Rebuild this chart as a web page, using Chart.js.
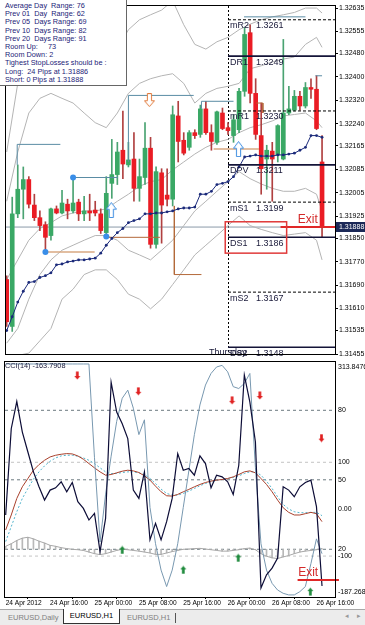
<!DOCTYPE html>
<html>
<head>
<meta charset="utf-8">
<title>EURUSD,H1</title>
<script src="https://cdn.jsdelivr.net/npm/chart.js@4.4.1/dist/chart.umd.min.js"></script>
<style>
  html, body { margin: 0; padding: 0; background: #fff; }
  body { width: 365px; height: 625px; position: relative; overflow: hidden; font-family: "Liberation Sans", Arial, sans-serif; }
  canvas { position: absolute; left: 0; }
  #mainChart { top: 0; }
  #cciChart { top: 357px; }
  #info { position: absolute; left: 0; top: 0; width: 127px; height: 86px; background: #fff;
          border-right: 1px solid #666; border-bottom: 1px solid #666; box-sizing: border-box;
          padding: 2px 0 0 5px; font-size: 7.3px; line-height: 8.2px; color: #1c1c78; white-space: pre; }
  #cciLabel { position: absolute; left: 5px; top: 361px; font-size: 7.3px; color: #202040; }
  #tabs { position: absolute; left: 0; top: 609px; width: 365px; height: 16px; background: #ececec;
          border-top: 1px solid #a8a8a8; font-size: 7.5px; }
  .tab { position: absolute; top: 1px; height: 13px; line-height: 13px; color: #808080; }
  .tab.on { top: -1px; height: 14px; line-height: 14px; background: #fff; color: #000;
            border: 1px solid #333; border-top: none; text-align: center; }
  #sep { position: absolute; left: 175px; top: 3px; width: 1px; height: 10px; background: #555; }
  .arr { position: absolute; top: 2px; font-family: "DejaVu Sans", sans-serif; font-size: 7px; color: #999; }
</style>
</head>
<body>
<canvas id="mainChart" width="365" height="360"></canvas>
<canvas id="cciChart" width="365" height="253"></canvas>
<div id="info">Average Day  Range: 76
Prev 01  Day  Range: 62
Prev 05  Days Range: 69
Prev 10  Days Range: 82
Prev 20  Days Range: 91
Room Up:     73
Room Down: 2
Tighest StopLosses should be :
Long:  24 Pips at 1.31886
Short: 0 Pips at 1.31888</div>
<div id="cciLabel">CCI(14) -163.7908</div>
<div id="tabs">
  <div class="tab" style="left:8px">EURUSD,Daily</div>
  <div class="tab on" style="left:63px;width:55px">EURUSD,H1</div>
  <div class="tab" style="left:127px">EURUSD,H1</div>
  <div id="sep"></div>
  <div class="arr" style="left:345px">&#9666;</div>
  <div class="arr" style="left:357px">&#9656;</div>
</div>
<script>
// EURUSD H1 candles, 24 Apr 2012 08:00 .. 26 Apr 17:00 (58 bars)
const openP = [
  1.31709, 1.31549, 1.31933, 1.32017, 1.32050, 1.31963, 1.31920, 1.31896, 1.31859, 1.31950,
  1.31936, 1.31966, 1.31943, 1.31973, 1.31933, 1.31943, 1.31946, 1.31933, 1.31869, 1.32037,
  1.32067, 1.32150, 1.32100, 1.32120, 1.32020, 1.32057, 1.32157, 1.31829, 1.32073, 1.31997,
  1.31983, 1.32267, 1.32184, 1.32160, 1.32210, 1.32204, 1.32291, 1.32210, 1.32177, 1.32277,
  1.32227, 1.32200, 1.32220, 1.32351, 1.32551, 1.32344, 1.32200, 1.32120, 1.32147, 1.32134,
  1.32120, 1.32277, 1.32287, 1.32334, 1.32301, 1.32364, 1.32358, 1.32110];
const highP = [
  1.31722, 1.31990, 1.32100, 1.32093, 1.32060, 1.32000, 1.31943, 1.31906, 1.31953, 1.31960,
  1.32013, 1.31983, 1.32053, 1.31983, 1.31993, 1.32000, 1.31976, 1.31950, 1.32060, 1.32187,
  1.32177, 1.32284, 1.32177, 1.32210, 1.32120, 1.32244, 1.32194, 1.32093, 1.32087, 1.32087,
  1.32301, 1.32317, 1.32210, 1.32217, 1.32220, 1.32304, 1.32317, 1.32237, 1.32284, 1.32294,
  1.32244, 1.32271, 1.32361, 1.32568, 1.32578, 1.32394, 1.32311, 1.32167, 1.32177, 1.32237,
  1.32528, 1.32368, 1.32354, 1.32351, 1.32381, 1.32394, 1.32404, 1.32200];
const lowP = [
  1.31549, 1.31532, 1.31920, 1.31916, 1.31953, 1.31910, 1.31876, 1.31803, 1.31843, 1.31933,
  1.31933, 1.31916, 1.31936, 1.31910, 1.31910, 1.31910, 1.31926, 1.31866, 1.31856, 1.31986,
  1.32033, 1.32053, 1.32093, 1.31976, 1.31976, 1.32033, 1.31816, 1.31816, 1.31833, 1.31960,
  1.31960, 1.32110, 1.32134, 1.32150, 1.32190, 1.32194, 1.32204, 1.32150, 1.32170, 1.32220,
  1.32204, 1.32177, 1.32210, 1.32334, 1.32311, 1.32187, 1.32000, 1.32017, 1.31976, 1.32110,
  1.32117, 1.32271, 1.32284, 1.32287, 1.32294, 1.32327, 1.32220, 1.31853];
const closeP = [
  1.31565, 1.31933, 1.32017, 1.32050, 1.31966, 1.31920, 1.31893, 1.31853, 1.31950, 1.31936,
  1.31970, 1.31943, 1.31970, 1.31933, 1.31943, 1.31936, 1.31936, 1.31876, 1.32003, 1.32067,
  1.32144, 1.32103, 1.32117, 1.32020, 1.32060, 1.32157, 1.31829, 1.32077, 1.31963, 1.31983,
  1.32271, 1.32180, 1.32140, 1.32210, 1.32200, 1.32291, 1.32210, 1.32180, 1.32281, 1.32224,
  1.32217, 1.32254, 1.32351, 1.32545, 1.32344, 1.32204, 1.32087, 1.32150, 1.32120, 1.32234,
  1.32277, 1.32291, 1.32334, 1.32301, 1.32364, 1.32358, 1.32224, 1.31888];

// dotted trailing line under the candles
const trailDots = [
  1.31535, 1.31582, 1.31632, 1.31669, 1.31699, 1.31702, 1.31716, 1.31722, 1.31732, 1.31759,
  1.31762, 1.31769, 1.31772, 1.31776, 1.31776, 1.31779, 1.31782, 1.31799, 1.31826, 1.31849,
  1.31869, 1.31883, 1.31903, 1.31910, 1.31916, 1.31933, 1.31933, 1.31936, 1.31936, 1.31940,
  1.31943, 1.31950, 1.31953, 1.31953, 1.31956, 1.32000, 1.32000, 1.32010, 1.32033, 1.32037,
  1.32043, 1.32060, 1.32093, 1.32127, 1.32130, 1.32134, 1.32130, 1.32130, 1.32130, 1.32134,
  1.32134, 1.32137, 1.32140, 1.32150, 1.32160, 1.32200, 1.32200, 1.32194];

// envelope bands, sampled every second bar
const bandIdx = [0, 2, 4, 6, 8, 10, 12, 14, 16, 18, 20, 22, 24, 26, 28, 30, 32, 34, 36, 38, 40, 42, 44, 46, 48, 50, 52, 54, 56, 57];
const bandOuterUp = [1.32144, 1.32378, 1.32545, 1.32612, 1.32660, 1.32628, 1.32578, 1.32511, 1.32461, 1.32428,
  1.32495, 1.32561, 1.32595, 1.32612, 1.32628, 1.32660, 1.32578, 1.32511, 1.32495, 1.32520,
  1.32535, 1.32561, 1.32580, 1.32595, 1.32605, 1.32612, 1.32620, 1.32635, 1.32635, 1.32618];
const bandInnerUp = [1.31976, 1.32144, 1.32277, 1.32327, 1.32344, 1.32327, 1.32311, 1.32277, 1.32244, 1.32227,
  1.32277, 1.32344, 1.32378, 1.32394, 1.32404, 1.32411, 1.32378, 1.32311, 1.32344, 1.32361,
  1.32368, 1.32378, 1.32428, 1.32438, 1.32451, 1.32461, 1.32468, 1.32511, 1.32535, 1.32501];
const bandMid = [1.31709, 1.31776, 1.31843, 1.31883, 1.31903, 1.31926, 1.31936, 1.31943, 1.31943, 1.31950,
  1.31976, 1.32000, 1.32027, 1.32043, 1.32050, 1.32083, 1.32110, 1.32137, 1.32160, 1.32177,
  1.32187, 1.32210, 1.32227, 1.32237, 1.32250, 1.32267, 1.32272, 1.32277, 1.32250, 1.32227];
const bandInnerLo = [1.31492, 1.31542, 1.31642, 1.31726, 1.31776, 1.31809, 1.31826, 1.31843, 1.31859, 1.31859,
  1.31843, 1.31809, 1.31793, 1.31776, 1.31809, 1.31843, 1.31893, 1.31943, 1.31976, 1.32010,
  1.32043, 1.32077, 1.32053, 1.32035, 1.32020, 1.32010, 1.32010, 1.32020, 1.32000, 1.31943];
const bandOuterLo = [1.31442, 1.31450, 1.31458, 1.31500, 1.31542, 1.31642, 1.31676, 1.31726, 1.31742, 1.31742,
  1.31709, 1.31659, 1.31642, 1.31609, 1.31642, 1.31692, 1.31742, 1.31793, 1.31826, 1.31859,
  1.31893, 1.31926, 1.31893, 1.31880, 1.31869, 1.31859, 1.31864, 1.31869, 1.31843, 1.31776];

const priceTicks = [1.32635, 1.32555, 1.32480, 1.32400, 1.32320, 1.32240, 1.32165, 1.32085,
  1.32005, 1.31925, 1.31850, 1.31770, 1.31690, 1.31610, 1.31535, 1.31455];
const lastPrice = 1.31888;

// pivot levels of Thursday
const pivotNames = ['mR2', 'DR1', 'mR1', 'DPV', 'mS1', 'DS1', 'mS2', 'DS2'];
const pivotLevels = [1.32595, 1.32471, 1.32284, 1.32100, 1.31973, 1.31853, 1.31666, 1.31478];
const pivotText = ['1.3261', '1.3249', '1.3230', '1.3211', '1.3199', '1.3186', '1.3167', '1.3148'];
const daySepIdx = 40;

// swing markers
const swingDotIdx = [7, 12, 18];
const swingDotPrice = [1.31803, 1.32057, 1.31856];
const hollowUpIdx = [18.9, 41.9];
const hollowUpPrice = [1.31946, 1.32154];
const hollowDnIdx = [25.8];
const hollowDnPrice = [1.32321];
const hiLines = [
  [[1.9, 1.32100], [1.9, 1.32170], [9.7, 1.32170]],
  [[12, 1.32057], [20.1, 1.32057]],
  [[22, 1.32110], [22, 1.32337], [33.8, 1.32337]],
  [[35.2, 1.32291], [35.2, 1.32317], [41, 1.32317]],
  [[42.9, 1.32605], [54, 1.32605]],
  [[55.8, 1.32404], [57, 1.32404]]];
const loLinesTan = [
  [[7, 1.31803], [15.9, 1.31803]],
  [[37.4, 1.32154], [45.6, 1.32154]]];
const loLinesBrown = [
  [[18, 1.31853], [27.7, 1.31853]],
  [[30.3, 1.31960], [30.3, 1.31726], [35.2, 1.31726]],
  [[45.1, 1.32311], [46.3, 1.32311], [46.3, 1.32277]]];

// CCI sub-window
const cciLine = [
  -12.4, 171.6, 229.6, 164.5, 122.0, 79.6, 47.7, 19.4, 40.7, 45.6,
  58.4, 37.1, 56.9, 15.9, 1.7, -23.1, -8.9, -90.3, -19.5, 270.7,
  207.0, 182.2, 150.4, 40.7, 23.0, 79.6, -65.5, -30.1, -65.5, -26.6,
  23.0, 118.5, 83.1, 86.7, 72.5, 113.6, 97.3, 45.6, 72.5, 69.0,
  58.4, 31.5, 93.7, 286.2, 228.2, 143.3, -168.1, -139.8, -125.7, -104.4,
  47.7, 40.7, 26.5, 47.7, 56.9, 61.9, 5.3, -163.79];
const cciMa = [
  -44.3, -12.4, 22.9, 47.7, 65.4, 83.1, 95.1, 104.3, 111.4, 115.0,
  117.1, 118.5, 117.8, 113.6, 106.5, 97.3, 88.1, 79.6, 72.5, 73.9,
  77.5, 81.0, 83.1, 81.7, 78.2, 71.1, 61.9, 49.1, 37.1, 28.6,
  27.9, 31.5, 37.1, 42.1, 47.7, 52.7, 56.9, 59.8, 61.9, 63.3,
  65.4, 68.9, 73.9, 79.6, 81.7, 77.5, 65.4, 52.7, 37.1, 19.4,
  3.1, -6.8, -12.4, -12.4, -9.6, -6.8, -9.6, -26.6];
const cciSig = [
  -69.0, -37.2, -5.4, 22.9, 44.2, 64.0, 79.6, 92.3, 102.2, 109.3,
  113.6, 115.0, 115.0, 112.8, 109.3, 104.3, 97.3, 88.1, 79.6, 76.0,
  76.0, 78.2, 79.6, 79.6, 77.5, 73.9, 65.4, 54.8, 42.8, 33.6,
  30.0, 30.0, 33.6, 38.5, 44.2, 49.9, 54.8, 58.4, 61.2, 63.3,
  65.4, 67.6, 71.1, 76.0, 79.6, 79.6, 72.5, 59.8, 44.2, 26.5,
  10.2, 0.3, -5.4, -7.5, -7.5, -6.8, -6.8, -13.8];
const stochLine = [
  100, 100, 100, 100, 100, 100, 100, 100, 100, 100,
  100, 100, 100, 100, 100, 100, 59.5, 23.1, 43.8, 60.2,
  75.2, 85.2, 88.7, 80.9, 69.5, 75.9, 38.1, 22.4, 11.0, 3.9,
  11.0, 22.4, 38.1, 53.8, 69.5, 82.3, 90.9, 95.9, 98.7, 99.4,
  96.6, 90.2, 89.4, 91.6, 95.9, 55.2, 22.4, 11.0, 5.3, 2.4,
  1.0, 0.3, 0.3, 1.7, 3.9, 13.8, 24.5, 18.1];
const oscLine = [
  21.3, 22.4, 23.8, 24.8, 25.2, 24.5, 23.5, 22.7, 21.7, 21.3,
  20.7, 20.3, 20.0, 19.8, 19.5, 18.8, 18.1, 17.7, 18.1, 18.8,
  19.5, 20.0, 19.8, 19.5, 19.2, 18.8, 18.4, 17.8, 17.8, 18.4,
  19.0, 19.5, 20.0, 20.1, 20.3, 20.4, 20.1, 19.8, 19.5, 19.2,
  19.2, 19.5, 19.8, 20.3, 20.5, 19.8, 18.1, 17.0, 16.3, 16.0,
  16.7, 17.3, 18.1, 18.8, 19.2, 19.5, 19.8, 20.3];
const oscBase = 20;
const sellIdx = [12.9, 23.9, 40.8, 45.8, 56.9];
const sellVal = [95.0, 88.2, 84.3, 86.4, 68.0];
const buyIdx = [21, 32, 41.9, 54.9];
const buyVal = [19.7, 11.1, 16.3, 1.7];
const cciTicks = [313.8476, 100, 0, -100, -187.268];
const cciTickText = ['313.8476', '100', '0.00', '-100', '-187.268'];
const stochLevels = [80, 50, 20];
const cciLevels = [100, -100];
const timeIdx = [0, 8, 16, 24, 32, 40, 48, 56];
const timeLabels = ['24 Apr 2012', '24 Apr 16:00', '25 Apr 00:00', '25 Apr 08:00',
  '25 Apr 16:00', '26 Apr 00:00', '26 Apr 08:00', '26 Apr 16:00'];

// ------------------------------------------------------------------
const FONT = '"Liberation Sans", Arial, sans-serif';
Chart.defaults.font.family = FONT;
Chart.defaults.animation = false;

const xMin = -0.125, xMax = 59.34;
const upColor = '#3aa865', dnColor = '#ea1c24';
const isUp = i => closeP[i] >= openP[i];
const seq = vals => vals.map((v, i) => ({x: i, y: v}));
const zip = (xs, ys) => xs.map((x, i) => ({x: x, y: ys[i]}));
const poly = p => p.map(q => ({x: q[0], y: q[1]}));

function lineDs(data, color, extra) {
  return Object.assign({type: 'line', data: data, borderColor: color, borderWidth: 1,
    pointRadius: 0, tension: 0, fill: false}, extra || {});
}

function arrowIcon(dir, w, h, fill, stroke) {
  const c = document.createElement('canvas');
  c.width = w; c.height = h;
  const g = c.getContext('2d');
  const sw = w * 0.38, hh = h * 0.45;
  g.beginPath();
  if (dir === 'up') {
    g.moveTo(w / 2, 0.5); g.lineTo(w - 0.5, hh); g.lineTo((w + sw) / 2, hh);
    g.lineTo((w + sw) / 2, h - 0.5); g.lineTo((w - sw) / 2, h - 0.5);
    g.lineTo((w - sw) / 2, hh); g.lineTo(0.5, hh);
  } else {
    g.moveTo(w / 2, h - 0.5); g.lineTo(w - 0.5, h - hh); g.lineTo((w + sw) / 2, h - hh);
    g.lineTo((w + sw) / 2, 0.5); g.lineTo((w - sw) / 2, 0.5);
    g.lineTo((w - sw) / 2, h - hh); g.lineTo(0.5, h - hh);
  }
  g.closePath();
  g.fillStyle = fill; g.fill();
  if (stroke) { g.strokeStyle = stroke; g.lineWidth = 1; g.stroke(); }
  return c;
}
const iconBlueUp = arrowIcon('up', 11, 16, '#fff', '#3c8ce0');
const iconOrangeDn = arrowIcon('down', 11, 14, '#fff', '#e07a3c');
const iconRedDn = arrowIcon('down', 7, 9, '#e02020');
const iconGreenUp = arrowIcon('up', 7, 9, '#1e8a3c');

function frame(chart) {
  const {ctx, chartArea: a} = chart;
  ctx.save();
  ctx.strokeStyle = '#000'; ctx.lineWidth = 1;
  ctx.strokeRect(Math.round(a.left) - 0.5, Math.round(a.top) - 0.5, Math.round(a.width) + 1, Math.round(a.height) + 1);
  ctx.restore();
}

// day separator, pivot captions, exit box and last price tag
const mainDecor = {
  id: 'mainDecor',
  beforeDatasetsDraw(chart) {
    const {ctx, chartArea: a, scales: {x}} = chart;
    const sx = Math.round(x.getPixelForValue(daySepIdx)) + 0.5;
    ctx.save();
    ctx.strokeStyle = '#000'; ctx.lineWidth = 1; ctx.setLineDash([2, 2]);
    ctx.beginPath(); ctx.moveTo(sx, a.top); ctx.lineTo(sx, a.bottom); ctx.stroke();
    ctx.restore();
  },
  afterDatasetsDraw(chart) {
    const {ctx, chartArea: a, scales: {x, y}} = chart;
    const sx = x.getPixelForValue(daySepIdx);
    ctx.save();
    ctx.font = '9px ' + FONT; ctx.fillStyle = '#1a1a3a'; ctx.textBaseline = 'middle';
    pivotNames.forEach((n, i) => {
      const py = y.getPixelForValue(pivotLevels[i]) + 6;
      ctx.fillText(n, sx + 2, py);
      ctx.fillText(pivotText[i], sx + 28, py);
    });
    ctx.fillText('Thursday', sx - 19, y.getPixelForValue(pivotLevels[7]) + 5);

    // exit box around DS1
    ctx.strokeStyle = '#e03a3a'; ctx.lineWidth = 1.5;
    const bx0 = x.getPixelForValue(39.5), bx1 = x.getPixelForValue(50.6);
    const by0 = y.getPixelForValue(1.31906), by1 = y.getPixelForValue(1.31799);
    ctx.strokeRect(bx0, by0, bx1 - bx0, by1 - by0);
    ctx.font = '12px ' + FONT; ctx.fillStyle = '#d42a2a'; ctx.textBaseline = 'bottom';
    ctx.fillText('Exit', x.getPixelForValue(52.6), y.getPixelForValue(lastPrice) - 1);

    // last price tag on the axis
    const ly = Math.round(y.getPixelForValue(lastPrice));
    ctx.fillStyle = '#1b2857';
    ctx.fillRect(a.right + 1, ly - 5, 30, 10);
    ctx.fillStyle = '#fff'; ctx.font = '7px ' + FONT; ctx.textBaseline = 'middle';
    ctx.fillText(lastPrice.toFixed(5), a.right + 4, ly + 0.5);
    ctx.restore();
    frame(chart);
  }
};

const mainDatasets = [
  // markers
  lineDs(zip(hollowUpIdx, hollowUpPrice), '#3c8ce0', {showLine: false, pointRadius: 5, pointStyle: iconBlueUp, order: 0}),
  lineDs(zip(hollowDnIdx, hollowDnPrice), '#e07a3c', {showLine: false, pointRadius: 5, pointStyle: iconOrangeDn, order: 0}),
  lineDs(zip(swingDotIdx, swingDotPrice), '#3a8ee8', {showLine: false, pointRadius: 3, pointBackgroundColor: '#3a8ee8', pointBorderWidth: 0, order: 0}),
  // exit line at last price
  lineDs([{x: 49.5, y: lastPrice}, {x: 60.0, y: lastPrice}], '#e02828', {borderWidth: 2, clip: 6, order: 0})
];
pivotNames.forEach((n, i) => {
  const solid = n.charAt(0) === 'D';
  mainDatasets.push(lineDs([{x: daySepIdx, y: pivotLevels[i]}, {x: xMax, y: pivotLevels[i]}],
    solid ? '#141438' : '#000', {borderWidth: solid ? 1.6 : 1, borderDash: solid ? [] : [3, 2], order: 1}));
});
mainDatasets.push(lineDs(seq(trailDots), '#1b2a7a', {pointRadius: 1.4, pointBackgroundColor: '#1b2a7a', pointBorderWidth: 0, order: 1}));
hiLines.forEach(p => mainDatasets.push(lineDs(poly(p), '#5a8ca4', {order: 2})));
loLinesTan.forEach(p => mainDatasets.push(lineDs(poly(p), '#d8a882', {borderWidth: 1.5, order: 2})));
loLinesBrown.forEach(p => mainDatasets.push(lineDs(poly(p), '#b4693a', {order: 2})));
mainDatasets.push({
  type: 'bar', order: 3, grouped: false, barThickness: 4, minBarLength: 1, borderWidth: 0,
  data: openP.map((o, i) => ({x: i, y: [o, closeP[i]]})),
  backgroundColor: ctx => isUp(ctx.dataIndex) ? upColor : dnColor
});
mainDatasets.push({
  type: 'bar', order: 4, grouped: false, barThickness: 1, borderWidth: 0,
  data: lowP.map((l, i) => ({x: i, y: [l, highP[i]]})),
  backgroundColor: ctx => isUp(ctx.dataIndex) ? '#4aa372' : '#b04040'
});
[bandOuterUp, bandInnerUp, bandMid, bandInnerLo, bandOuterLo].forEach(b =>
  mainDatasets.push(lineDs(zip(bandIdx, b), '#b4b4b4', {order: 5})));
mainDatasets.push(lineDs([{x: xMin, y: lastPrice}, {x: xMax, y: lastPrice}], '#8a9aa8', {order: 6}));

new Chart(document.getElementById('mainChart'), {
  type: 'bar',
  data: {datasets: mainDatasets},
  options: {
    responsive: false, devicePixelRatio: 1, animation: false,
    layout: {padding: {left: 2, top: 1, right: 0, bottom: 5}},
    plugins: {legend: {display: false}, tooltip: {enabled: false}},
    scales: {
      x: {type: 'linear', min: xMin, max: xMax, offset: false, display: false},
      y: {
        type: 'linear', position: 'right', min: 1.31455, max: 1.32642, beginAtZero: false,
        afterFit: s => { s.width = 30; },
        afterBuildTicks: s => { s.ticks = priceTicks.map(v => ({value: v})); },
        ticks: {callback: v => Number(v).toFixed(5), autoSkip: false, padding: 1, color: '#000',
                font: {size: 7}},
        grid: {drawOnChartArea: false, drawTicks: true, tickLength: 3, color: '#000'},
        border: {color: '#000'}
      }
    }
  },
  plugins: [mainDecor]
});

// ------------------------------------------------------------------
const cciDecor = {
  id: 'cciDecor',
  afterDatasetsDraw(chart) {
    const {ctx, chartArea: a, scales: {y, y2, x}} = chart;
    ctx.save();
    ctx.font = '7px ' + FONT; ctx.fillStyle = '#000';
    cciTicks.forEach((v, i) => {
      let py = y.getPixelForValue(v);
      ctx.textBaseline = 'middle';
      if (i === 0) { ctx.textBaseline = 'top'; py += 2; }
      if (i === cciTicks.length - 1) { ctx.textBaseline = 'bottom'; py -= 1; }
      ctx.fillText(cciTickText[i], a.right + 3, py);
    });
    ctx.textBaseline = 'middle';
    stochLevels.forEach(v => ctx.fillText(String(v), a.right + 3, y2.getPixelForValue(v)));
    ctx.font = '12px ' + FONT; ctx.fillStyle = '#d42a2a'; ctx.textBaseline = 'bottom';
    ctx.fillText('Exit', x.getPixelForValue(52.7), y.getPixelForValue(-151.2) - 1);
    ctx.restore();
    frame(chart);
  }
};

const cciDatasets = [
  lineDs(zip(sellIdx, sellVal), '#e02020', {yAxisID: 'y2', showLine: false, pointRadius: 4, pointStyle: iconRedDn, order: 0}),
  lineDs(zip(buyIdx, buyVal), '#1e8a3c', {yAxisID: 'y2', showLine: false, pointRadius: 4, pointStyle: iconGreenUp, order: 0}),
  lineDs([{x: 52.6, y: -151.2}, {x: 60.05, y: -151.2}], '#e02828', {borderWidth: 2, clip: 6, order: 0}),
  lineDs(seq(cciLine), '#0c0c36', {borderWidth: 1.2, order: 1}),
  lineDs(seq(stochLine), '#7898b0', {yAxisID: 'y2', order: 2}),
  lineDs(seq(cciMa), '#a8402c', {order: 3}),
  lineDs(seq(cciSig), '#52b4cc', {borderDash: [2, 2], order: 4}),
  lineDs(seq(oscLine), '#a8a8a8', {yAxisID: 'y2', order: 5}),
  {type: 'bar', yAxisID: 'y2', order: 6, grouped: false, barThickness: 1, borderWidth: 0,
   data: oscLine.map((v, i) => ({x: i, y: [oscBase, v]})), backgroundColor: '#b8b8b8'}
];
stochLevels.forEach(v => cciDatasets.push(lineDs([{x: xMin, y: v}, {x: xMax, y: v}], '#6c7a80',
  {yAxisID: 'y2', borderDash: [3, 3], order: 7})));
cciLevels.forEach(v => cciDatasets.push(lineDs([{x: xMin, y: v}, {x: xMax, y: v}], '#c4c4c4',
  {borderDash: [3, 3], order: 7})));

new Chart(document.getElementById('cciChart'), {
  type: 'bar',
  data: {datasets: cciDatasets},
  options: {
    responsive: false, devicePixelRatio: 1, animation: false,
    layout: {padding: {left: 2, top: 1, right: 0, bottom: 1}},
    plugins: {legend: {display: false}, tooltip: {enabled: false}},
    scales: {
      x: {
        type: 'linear', position: 'bottom', min: xMin, max: xMax, offset: false,
        afterFit: s => { s.height = 12; },
        afterBuildTicks: s => { s.ticks = timeIdx.map(v => ({value: v})); },
        ticks: {callback: (v, i) => timeLabels[i], align: 'start', autoSkip: false, maxRotation: 0,
                padding: 0, color: '#000', font: {size: 6.6}},
        grid: {drawOnChartArea: false, tickLength: 2, color: '#000'},
        border: {color: '#000'}
      },
      y: {
        type: 'linear', position: 'right', min: -187.268, max: 313.8476, beginAtZero: false,
        afterFit: s => { s.width = 30; },
        ticks: {display: false}, grid: {display: false}, border: {color: '#000'}
      },
      y2: {type: 'linear', display: false, min: -0.6, max: 100.85}
    }
  },
  plugins: [cciDecor]
});
</script>
</body>
</html>
